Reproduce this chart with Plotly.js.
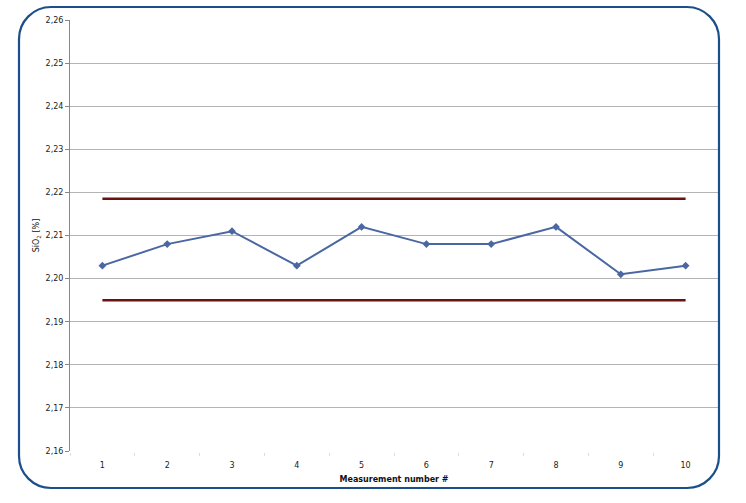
<!DOCTYPE html>
<html>
<head>
<meta charset="utf-8">
<script src="https://cdn.plot.ly/plotly-3.0.1.min.js"></script>
<style>html,body{margin:0;padding:0;background:#fff;}#chart{width:746px;height:503px;}</style>
</head>
<body>
<div id="chart"></div>
<script>
const categories = ['1', '2', '3', '4', '5', '6', '7', '8', '9', '10'];
const sio2Values = [2.203, 2.208, 2.211, 2.203, 2.212, 2.208, 2.208, 2.212, 2.201, 2.203];
const upperLimit = 2.2185;
const lowerLimit = 2.195;
const limitX = ['1', '10'];

// plot area in pixels: left 70, right 718, top 20, bottom 451
const L = 70, R = 718, T = 20, B = 451;
function px(x) { return (x - L) / (R - L); }
function py(y) { return (B - y) / (B - T); }
function roundedRect(x0, y0, x1, y1, r) {
  const k = 0.5523 * r;
  return [
    'M', px(x0 + r), py(y0),
    'L', px(x1 - r), py(y0),
    'C', px(x1 - r + k), py(y0), px(x1), py(y0 + r - k), px(x1), py(y0 + r),
    'L', px(x1), py(y1 - r),
    'C', px(x1), py(y1 - r + k), px(x1 - r + k), py(y1), px(x1 - r), py(y1),
    'L', px(x0 + r), py(y1),
    'C', px(x0 + r - k), py(y1), px(x0), py(y1 - r + k), px(x0), py(y1 - r),
    'L', px(x0), py(y0 + r),
    'C', px(x0), py(y0 + r - k), px(x0 + r - k), py(y0), px(x0 + r), py(y0),
    'Z'
  ].join(' ');
}

const traces = [
  {
    x: categories, y: sio2Values, type: 'scatter', mode: 'lines+markers',
    line: { color: '#4a67a3', width: 2 },
    marker: { symbol: 'diamond', size: 6, color: '#4a67a3' },
    showlegend: false
  },
  {
    x: limitX, y: [upperLimit, upperLimit], type: 'scatter', mode: 'lines',
    line: { color: '#6a1212', width: 2.5 }, hoverinfo: 'skip', showlegend: false
  },
  {
    x: limitX, y: [lowerLimit, lowerLimit], type: 'scatter', mode: 'lines',
    line: { color: '#6a1212', width: 2.5 }, hoverinfo: 'skip', showlegend: false
  }
];

const layout = {
  width: 746, height: 503,
  margin: { l: L, r: 746 - R, t: T, b: 503 - B, pad: 0 },
  paper_bgcolor: '#ffffff', plot_bgcolor: '#ffffff',
  separators: ',.',
  font: { family: 'DejaVu Sans, Verdana, sans-serif', size: 8, color: '#222' },
  showlegend: false,
  xaxis: {
    type: 'category',
    categoryorder: 'array', categoryarray: categories,
    range: [-0.5, 9.5],
    tickson: 'boundaries',
    showgrid: false, zeroline: false,
    showline: true, linecolor: '#ffffff', linewidth: 2,
    ticks: 'outside', ticklen: 3, tickcolor: '#dddddd',
    ticklabelstandoff: 5,
    tickfont: { size: 8, color: '#222' },
    title: { text: '<b>Measurement number #</b>', font: { size: 8, color: '#111' }, standoff: 8 },
    automargin: false
  },
  yaxis: {
    range: [2.16, 2.26], dtick: 0.01, tick0: 2.16, tickformat: '.2f',
    showgrid: true, gridcolor: '#b4b4b4', gridwidth: 1,
    zeroline: false, showline: true, linecolor: '#888', linewidth: 1,
    ticks: 'outside', ticklen: 4, tickcolor: '#888',
    tickfont: { size: 8, color: '#222' },
    title: { text: 'SiO<sub>2</sub> [%]', font: { size: 8, color: '#111' }, standoff: 4 },
    automargin: false
  },
  shapes: [
    {
      type: 'path', xref: 'paper', yref: 'paper',
      path: roundedRect(19, 7, 719, 488, 32),
      line: { color: '#1b4f8c', width: 2.2 }, fillcolor: 'rgba(0,0,0,0)', layer: 'above'
    }
  ]
};

Plotly.newPlot('chart', traces, layout, { staticPlot: true, displayModeBar: false });
</script>
</body>
</html>
